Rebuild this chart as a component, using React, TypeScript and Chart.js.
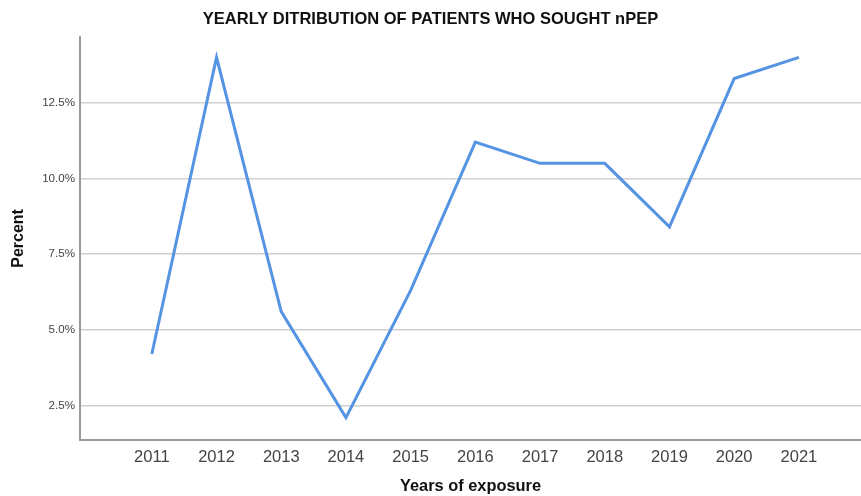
import React, { useEffect, useRef } from "react";
import { Chart, registerables } from "chart.js";

Chart.register(...registerables);

const years = [2011, 2012, 2013, 2014, 2015, 2016, 2017, 2018, 2019, 2020, 2021];
const percents = [4.2, 14.0, 5.6, 2.1, 6.3, 11.2, 10.5, 10.5, 8.4, 13.3, 14.0];
const yTicks = [2.5, 5.0, 7.5, 10.0, 12.5];
const titleText = "YEARLY DITRIBUTION OF PATIENTS WHO SOUGHT nPEP";
const xTitle = "Years of exposure";
const yTitle = "Percent";

export default function App() {
  const ref = useRef<HTMLCanvasElement | null>(null);
  useEffect(() => {
    if (!ref.current) return;
    const font = "'Liberation Sans', Arial, sans-serif";
    const chart = new Chart(ref.current, {
      type: "line",
      data: {
        datasets: [
          {
            data: years.map((y, i) => ({ x: y, y: percents[i] })),
            borderColor: "#5593e3",
            borderWidth: 3,
            pointRadius: 0,
            fill: false,
            tension: 0,
          },
        ],
      },
      options: {
        animation: false,
        responsive: false,
        maintainAspectRatio: false,
        layout: { padding: { left: 0, right: 0, top: 0, bottom: 0 } },
        plugins: {
          legend: { display: false },
          tooltip: { enabled: false },
          title: {
            display: true,
            text: titleText,
            color: "#111",
            font: { family: font, size: 16.5, weight: "bold" },
            padding: { top: 10, bottom: 7 },
          },
        },
        scales: {
          x: {
            type: "linear",
            min: 2009.89,
            max: 2021.96,
            afterBuildTicks: (s: any) => {
              s.ticks = years.map((v) => ({ value: v }));
            },
            afterFit: (s: any) => {
              s.height = 56;
            },
            grid: { display: false, drawTicks: false },
            border: { display: true, color: "#999", width: 2 },
            ticks: {
              color: "#444",
              font: { family: font, size: 16.5 },
              padding: 8,
              maxRotation: 0,
              autoSkip: false,
              callback: (v: any) => String(v),
            },
            title: {
              display: true,
              text: xTitle,
              color: "#111",
              font: { family: font, size: 16.4, weight: "bold" },
              padding: { top: 0, bottom: 0 },
            },
          },
          y: {
            type: "linear",
            min: 1.36,
            max: 14.68,
            afterBuildTicks: (s: any) => {
              s.ticks = yTicks.map((v) => ({ value: v }));
            },
            afterFit: (s: any) => {
              s.width = 80;
            },
            grid: { color: "#d0d0d0", lineWidth: 1.5, drawTicks: false },
            border: { display: true, color: "#999", width: 2 },
            ticks: {
              color: "#444",
              font: { family: font, size: 11.6 },
              padding: 5,
              callback: (v: any) => Number(v).toFixed(1) + "%",
            },
            title: {
              display: true,
              text: yTitle,
              color: "#111",
              font: { family: font, size: 16, weight: "bold" },
              padding: { top: 9, bottom: 0 },
            },
          },
        },
      },
    } as any);
    return () => chart.destroy();
  }, []);
  return (
    <div style={{ position: "fixed", left: 0, top: 0, width: 861, height: 496, background: "#fff" }}>
      <canvas ref={ref} width={861} height={496} style={{ width: 861, height: 496 }} />
    </div>
  );
}
